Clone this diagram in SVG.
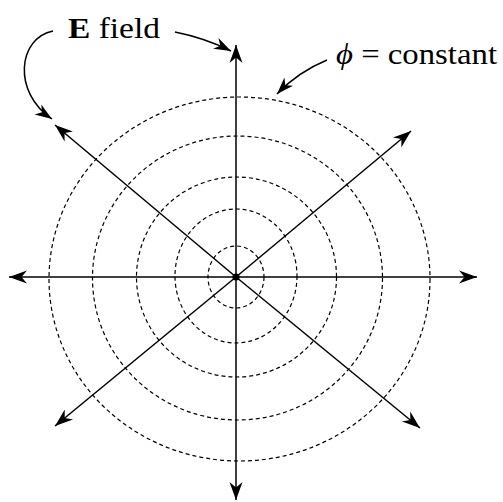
<svg xmlns="http://www.w3.org/2000/svg" width="503" height="502" viewBox="0 0 503 502">
<style>
.eq{fill:none;stroke:#000;stroke-width:1.2;stroke-dasharray:4 3}
.ax{fill:none;stroke:#000;stroke-width:1.5;marker-end:url(#ah)}
.cv{fill:none;stroke:#000;stroke-width:1.5;marker-end:url(#ah2)}
.t{font-family:"Liberation Serif","Times New Roman",serif;font-size:30px;fill:#000}
</style>
<defs>
<marker id="ah" markerUnits="userSpaceOnUse" orient="auto" refX="0" refY="0" markerWidth="20" markerHeight="14" viewBox="-18 -7 20 14" overflow="visible">
<path d="M0,0 L-18,-6.5 L-12.5,0 L-18,6.5 Z" fill="#000"/>
</marker>
<marker id="ah2" markerUnits="userSpaceOnUse" orient="auto" refX="0" refY="0" markerWidth="20" markerHeight="14" viewBox="-18 -7 20 14" overflow="visible">
<path d="M0,0 L-17,-6 L-12,0 L-17,6 Z" fill="#000"/>
</marker>
</defs>
<g id="equipotentials">
<ellipse class="eq" cx="236" cy="277" rx="28" ry="31"/>
<ellipse class="eq" cx="236" cy="276" rx="61" ry="67"/>
<ellipse class="eq" cx="236.5" cy="277" rx="100" ry="100"/>
<ellipse class="eq" cx="237.5" cy="278" rx="145" ry="142"/>
<ellipse class="eq" cx="239.5" cy="279" rx="190.5" ry="182"/>
</g>
<g id="connectors">
<line class="ax" x1="236" y1="277" x2="236" y2="45"/>
<line class="ax" x1="236" y1="277" x2="236" y2="500"/>
<line class="ax" x1="236" y1="277" x2="9" y2="277"/>
<line class="ax" x1="236" y1="277" x2="477" y2="277"/>
<line class="ax" x1="236" y1="277" x2="411" y2="131"/>
<line class="ax" x1="236" y1="277" x2="55" y2="426"/>
<line class="ax" x1="236" y1="277" x2="55" y2="125"/>
<line class="ax" x1="236" y1="277" x2="420" y2="428"/>
<path class="cv" d="M53,31 C18,38 12,92 52,119"/>
<path class="cv" d="M175,32 Q205,38 231,51"/>
<path class="cv" d="M327,60 Q298,72 277,94"/>
</g>
<g id="charge">
<circle cx="236" cy="277" r="3.6" fill="#000"/>
</g>
<g id="label-e">
<text class="t" x="68" y="37.5" textLength="92" lengthAdjust="spacingAndGlyphs"><tspan font-weight="bold">E</tspan> field</text>
</g>
<g id="label-phi">
<text class="t" x="336" y="63.5" textLength="161" lengthAdjust="spacingAndGlyphs"><tspan font-style="italic">ϕ</tspan> = constant</text>
</g>
</svg>
